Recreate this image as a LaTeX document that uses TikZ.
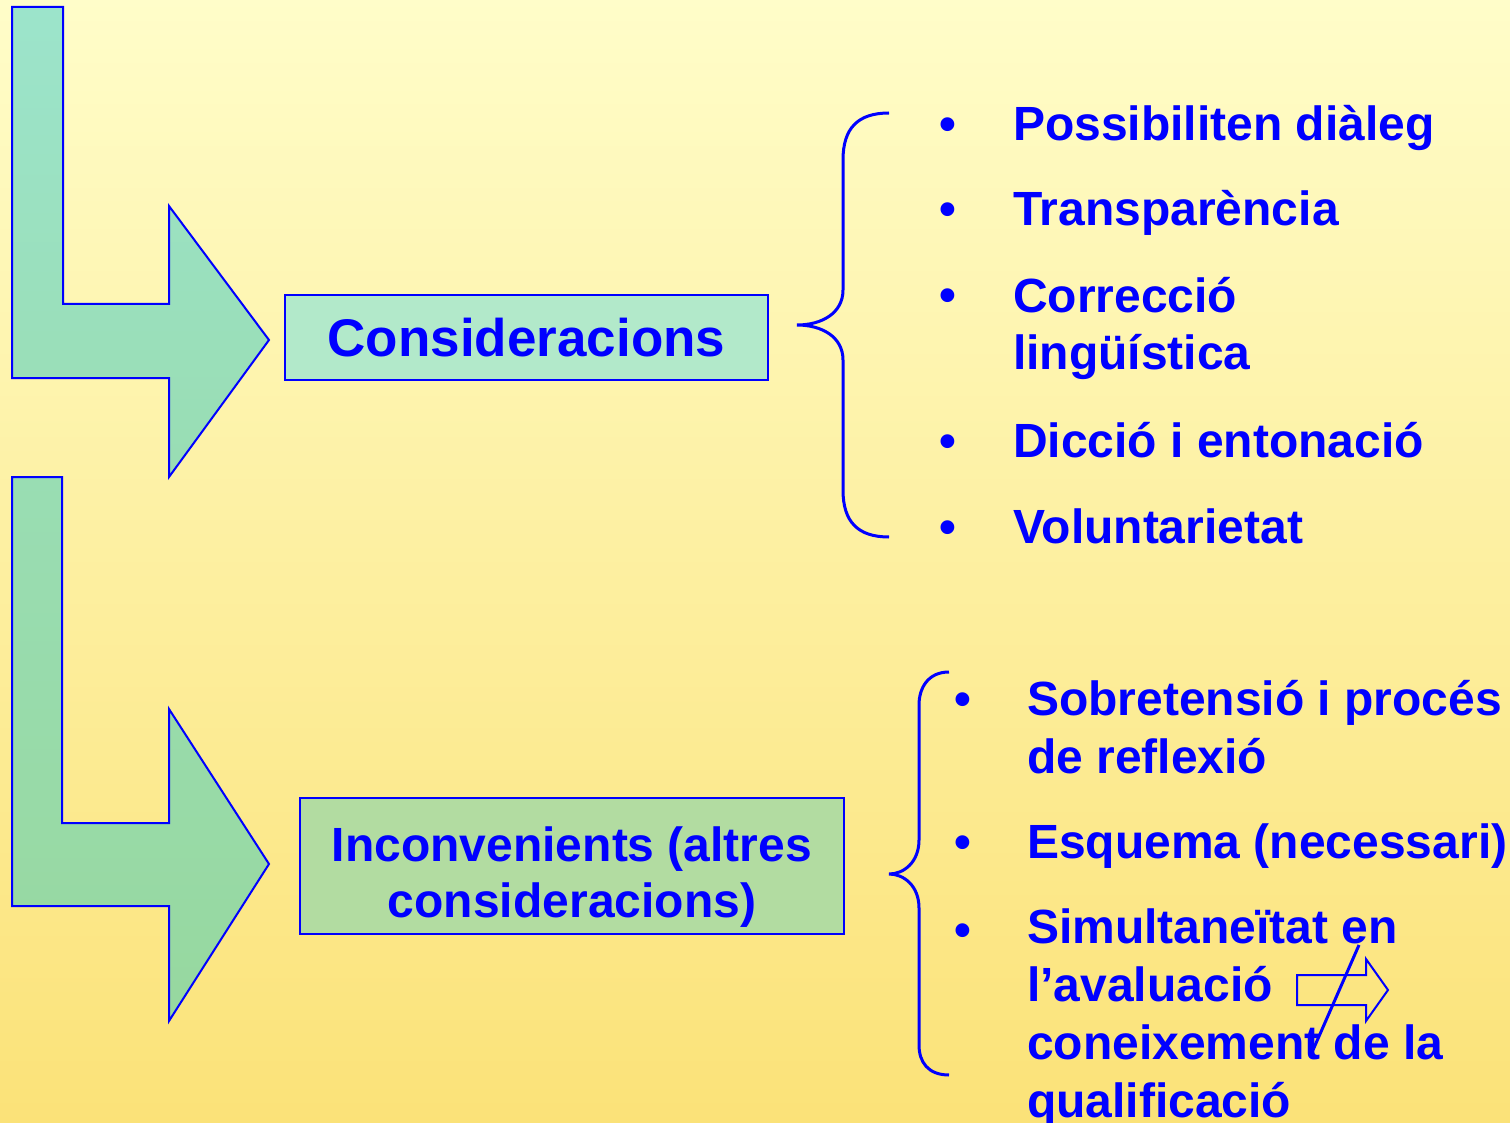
\documentclass[tikz,border=0pt]{standalone}
\usepackage{fontspec}
\setmainfont{Liberation Sans}
\usetikzlibrary{positioning}
\definecolor{txtblue}{HTML}{0000FF}
\definecolor{bgtop}{HTML}{FFFDC9}
\definecolor{bgbot}{HTML}{FBE278}
\definecolor{arrtop}{HTML}{9CE4CB}
\definecolor{arrmid}{HTML}{99DDB3}
\definecolor{arrbot}{HTML}{97D89F}
\definecolor{boxa}{HTML}{B2E9CA}
\definecolor{boxb}{HTML}{B2DCA1}
\begin{document}
\begin{tikzpicture}[x=1pt,y=-1pt,
    bigarrow/.style={draw=txtblue, line width=2pt},
    topic/.style={draw=txtblue, line width=2pt, text=txtblue, align=center,
        inner sep=0pt, font=\bfseries\fontsize{48}{56}\selectfont},
    item/.style={anchor=base west, text=txtblue, align=left, inner sep=0pt,
        font=\bfseries\fontsize{48}{58}\selectfont},
    dot/.style={anchor=base, text=txtblue, inner sep=0pt,
        font=\bfseries\fontsize{48}{58}\selectfont},
    brace/.style={draw=txtblue, line width=3pt}]
    \useasboundingbox (0,0) rectangle (1510,1123);
    \shade[top color=bgtop, bottom color=bgbot] (0,0) rectangle (1510,1123);

    \shadedraw[bigarrow, top color=arrtop, bottom color=arrmid]
        (12,7) -- (63,7) -- (63,304) -- (169,304) -- (169,206) -- (269,340)
        -- (169,477) -- (169,378) -- (12,378) -- cycle;
    \shadedraw[bigarrow, top color=arrmid, bottom color=arrbot]
        (12,477) -- (62,477) -- (62,823) -- (169,823) -- (169,709) -- (269,864)
        -- (169,1021) -- (169,906) -- (12,906) -- cycle;

    \node[topic, fill=boxa, minimum width=483pt, minimum height=85pt,
        font=\bfseries\fontsize{53}{60}\selectfont] (consid) at (526.5,337.5) {Consideracions};
    \node[topic, fill=boxb, minimum width=544pt, minimum height=136pt] (inconv) at (572,866)
        {\rule{0pt}{57pt}Inconvenients (altres\\consideracions)};

    \coordinate (bra) at (797,325);
    \draw[brace] (889,113) .. controls (858,113) and (843,128) .. (843,160) -- (843,290)
        .. controls (843,313) and (822,325) .. (bra)
        .. controls (822,325) and (843,337) .. (843,360) -- (843,490)
        .. controls (843,522) and (858,537) .. (889,537);
    \coordinate (brb) at (889,874);
    \draw[brace] (949,672) .. controls (928,672) and (919,688) .. (919,705) -- (919,840)
        .. controls (919,862) and (904,874) .. (brb)
        .. controls (904,874) and (919,886) .. (919,908) -- (919,1045)
        .. controls (919,1062) and (928,1075) .. (949,1075);

    \node[item] (poss) at (1013,141) {Possibiliten diàleg};
    \node[item] (transp) at (1013,226) {Transparència};
    \node[item] (correc) at (1013,370) {Correcció\\lingüística};
    \node[item] (diccio) at (1013,457) {Dicció i entonació};
    \node[item] (volunt) at (1013,543) {Voluntarietat};
    \foreach \y in {141,226,312,457,543}
        \node[dot] at (948,\y) {•};

    \node[item] (sobre) at (1027,773) {Sobretensió i procés\\de reflexió};
    \node[item] (esquema) at (1027,858) {Esquema (necessari)};
    \node[item] (simult) at (1027,1117) {Simultaneïtat en\\l’avaluació\\coneixement de la\\qualificació};
    \foreach \y in {715,858,946}
        \node[dot] at (963,\y) {•};

    \draw[txtblue, line width=2pt] (1297,975) -- (1366,975) -- (1366,959) -- (1388,990)
        -- (1366,1021) -- (1366,1005) -- (1297,1005) -- cycle;
    \coordinate (slasha) at (1359,945);
    \coordinate (slashb) at (1313,1050);
    \draw[txtblue, line width=3pt] (slasha) -- (slashb);
\end{tikzpicture}
\end{document}
